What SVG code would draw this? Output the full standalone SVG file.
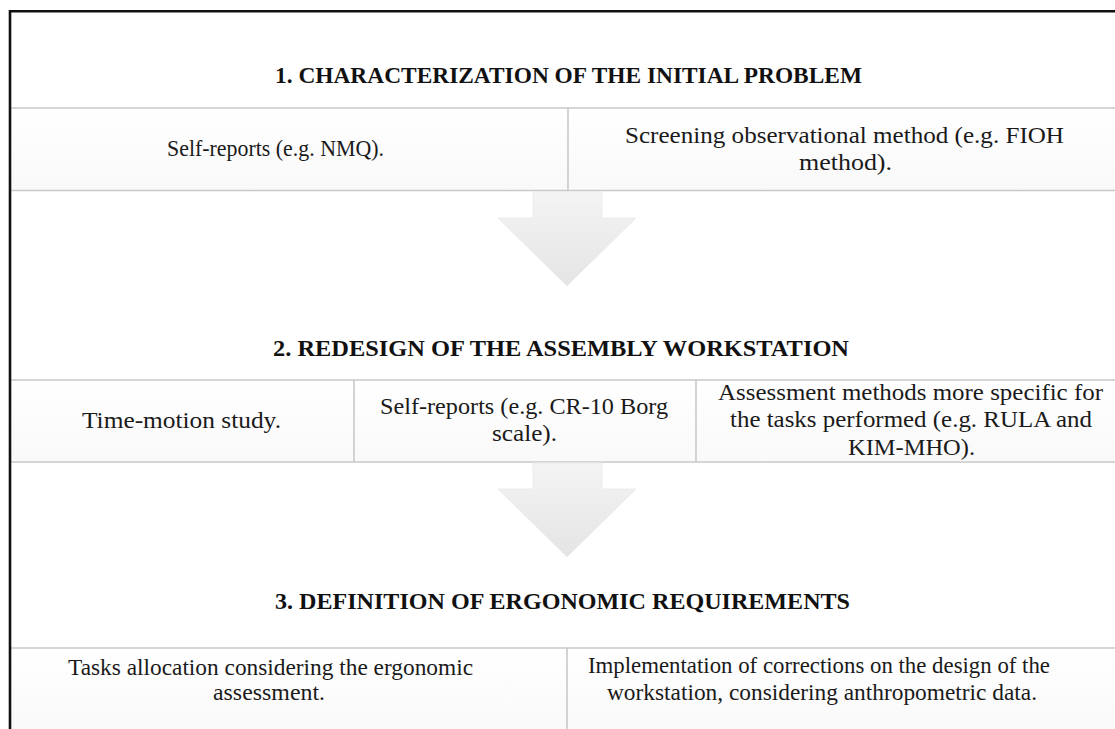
<svg xmlns="http://www.w3.org/2000/svg" width="1115" height="729" viewBox="0 0 1115 729">
  <defs>
    <linearGradient id="cellGrad" x1="0" y1="0" x2="0" y2="1">
      <stop offset="0" stop-color="#ffffff"/>
      <stop offset="1" stop-color="#f9f9f9"/>
    </linearGradient>
    <linearGradient id="arrowGrad" x1="0" y1="0" x2="0" y2="1">
      <stop offset="0" stop-color="#f4f4f4"/>
      <stop offset="1" stop-color="#e4e4e4"/>
    </linearGradient>
  </defs>
  <style>
    .cell { fill: url(#cellGrad); }
    .grid { stroke: #c9c9c9; stroke-width: 1.6; fill: none; }
    .frame { stroke: #111111; stroke-width: 2.6; fill: none; }
    .title { font-family: "Liberation Serif", "Times New Roman", serif; font-weight: bold; font-size: 23px; fill: #111111; text-anchor: middle; }
    .body { font-family: "Liberation Serif", "Times New Roman", serif; font-size: 23px; fill: #1a1a1a; text-anchor: middle; }
    .arrow { fill: url(#arrowGrad); stroke: #ececec; stroke-width: 1; }
  </style>

  <rect x="0" y="0" width="1115" height="729" fill="#ffffff"/>

  <!-- Section 1 -->
  <g id="title1">
    <text class="title" x="568.5" y="83" textLength="587" lengthAdjust="spacingAndGlyphs">1. CHARACTERIZATION OF THE INITIAL PROBLEM</text>
  </g>
  <g id="s1-self-reports">
    <rect class="cell" x="11" y="108" width="557" height="82"/>
    <text class="body" x="275.5" y="156" textLength="217" lengthAdjust="spacingAndGlyphs">Self-reports (e.g. NMQ).</text>
  </g>
  <g id="s1-screening">
    <rect class="cell" x="568" y="108" width="547" height="82"/>
    <text class="body" x="844.5" y="143" textLength="439" lengthAdjust="spacingAndGlyphs">Screening observational method (e.g. FIOH</text>
    <text class="body" x="845.5" y="170" textLength="93" lengthAdjust="spacingAndGlyphs">method).</text>
  </g>

  <!-- Section 2 -->
  <g id="title2">
    <text class="title" x="561" y="356" textLength="576" lengthAdjust="spacingAndGlyphs">2. REDESIGN OF THE ASSEMBLY WORKSTATION</text>
  </g>
  <g id="s2-time-motion">
    <rect class="cell" x="11" y="380" width="343" height="82"/>
    <text class="body" x="181.5" y="428" textLength="199" lengthAdjust="spacingAndGlyphs">Time-motion study.</text>
  </g>
  <g id="s2-self-reports">
    <rect class="cell" x="354" y="380" width="342" height="82"/>
    <text class="body" x="524" y="414" textLength="288" lengthAdjust="spacingAndGlyphs">Self-reports (e.g. CR-10 Borg</text>
    <text class="body" x="524.5" y="441" textLength="65" lengthAdjust="spacingAndGlyphs">scale).</text>
  </g>
  <g id="s2-assessment">
    <rect class="cell" x="696" y="380" width="419" height="82"/>
    <text class="body" x="910.5" y="400" textLength="385" lengthAdjust="spacingAndGlyphs">Assessment methods more specific for</text>
    <text class="body" x="911" y="427" textLength="362" lengthAdjust="spacingAndGlyphs">the tasks performed (e.g. RULA and</text>
    <text class="body" x="911.5" y="455" textLength="127" lengthAdjust="spacingAndGlyphs">KIM-MHO).</text>
  </g>

  <!-- Section 3 -->
  <g id="title3">
    <text class="title" x="562.5" y="609" textLength="575" lengthAdjust="spacingAndGlyphs">3. DEFINITION OF ERGONOMIC REQUIREMENTS</text>
  </g>
  <g id="s3-tasks">
    <rect class="cell" x="11" y="648" width="556" height="81"/>
    <text class="body" x="270.5" y="675" textLength="405" lengthAdjust="spacingAndGlyphs">Tasks allocation considering the ergonomic</text>
    <text class="body" x="269" y="700" textLength="112" lengthAdjust="spacingAndGlyphs">assessment.</text>
  </g>
  <g id="s3-implementation">
    <rect class="cell" x="567" y="648" width="548" height="81"/>
    <text class="body" x="819" y="673" textLength="462" lengthAdjust="spacingAndGlyphs">Implementation of corrections on the design of the</text>
    <text class="body" x="822" y="700" textLength="430" lengthAdjust="spacingAndGlyphs">workstation, considering anthropometric data.</text>
  </g>

  <!-- Grid lines -->
  <g id="grid">
    <line class="grid" x1="11" y1="108" x2="1115" y2="108"/>
    <line class="grid" x1="11" y1="190.5" x2="1115" y2="190.5"/>
    <line class="grid" x1="568" y1="108" x2="568" y2="190.5"/>
    <line class="grid" x1="11" y1="380" x2="1115" y2="380"/>
    <line class="grid" x1="11" y1="462" x2="1115" y2="462"/>
    <line class="grid" x1="354" y1="380" x2="354" y2="462"/>
    <line class="grid" x1="696" y1="380" x2="696" y2="462"/>
    <line class="grid" x1="11" y1="648" x2="1115" y2="648"/>
    <line class="grid" x1="567" y1="648" x2="567" y2="729"/>
  </g>

  <!-- Connectors -->
  <g id="connectors">
    <path class="arrow" d="M533,191.5 L602,191.5 L602,218 L636,218 L567,286 L498,218 L533,218 Z"/>
    <path class="arrow" d="M533,463 L602,463 L602,489 L636,489 L567,557 L498,489 L533,489 Z"/>
  </g>

  <!-- Outer frame -->
  <g id="frame">
    <path class="frame" d="M10,729 L10,11.3 L1115,11.3"/>
  </g>
</svg>
